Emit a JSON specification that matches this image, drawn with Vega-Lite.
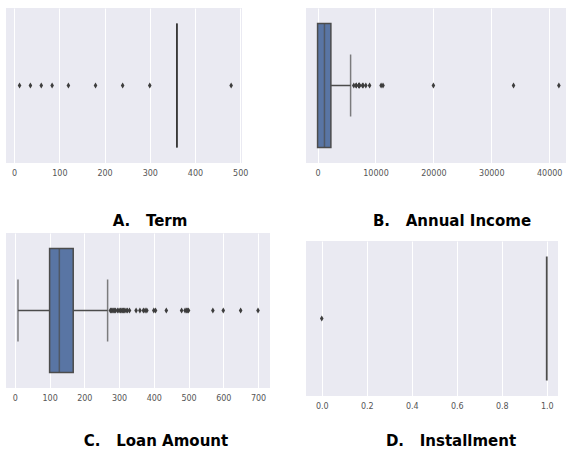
{
  "$schema": "https://vega.github.io/schema/vega-lite/v6.json",
  "padding": {"left": 6, "top": 8, "right": 0, "bottom": 0},
  "background": "#ffffff",
  "datasets": {
    "stats": [
      {"panel": "A", "lo": 360, "q1": 360, "median": 360, "q3": 360, "hi": 360},
      {"panel": "B", "lo": 0, "q1": 0, "median": 1188.5, "q3": 2297, "hi": 5701},
      {"panel": "C", "lo": 9, "q1": 100, "median": 128, "q3": 168, "hi": 267},
      {"panel": "D", "lo": 1, "q1": 1, "median": 1, "q3": 1, "hi": 1}
    ],
    "outliers": [
      {"panel": "A", "value": 12}, {"panel": "A", "value": 36}, {"panel": "A", "value": 60},
      {"panel": "A", "value": 84}, {"panel": "A", "value": 120}, {"panel": "A", "value": 180},
      {"panel": "A", "value": 240}, {"panel": "A", "value": 300}, {"panel": "A", "value": 480},
      {"panel": "B", "value": 6250}, {"panel": "B", "value": 6666}, {"panel": "B", "value": 6667},
      {"panel": "B", "value": 7101}, {"panel": "B", "value": 7166}, {"panel": "B", "value": 7210},
      {"panel": "B", "value": 7250}, {"panel": "B", "value": 7750}, {"panel": "B", "value": 7873},
      {"panel": "B", "value": 8333}, {"panel": "B", "value": 8980}, {"panel": "B", "value": 10968},
      {"panel": "B", "value": 11300}, {"panel": "B", "value": 20000}, {"panel": "B", "value": 33837},
      {"panel": "B", "value": 41667},
      {"panel": "C", "value": 275}, {"panel": "C", "value": 279}, {"panel": "C", "value": 280},
      {"panel": "C", "value": 285}, {"panel": "C", "value": 286}, {"panel": "C", "value": 290},
      {"panel": "C", "value": 296}, {"panel": "C", "value": 300}, {"panel": "C", "value": 304},
      {"panel": "C", "value": 308}, {"panel": "C", "value": 311}, {"panel": "C", "value": 312},
      {"panel": "C", "value": 315}, {"panel": "C", "value": 320}, {"panel": "C", "value": 324},
      {"panel": "C", "value": 330}, {"panel": "C", "value": 349}, {"panel": "C", "value": 360},
      {"panel": "C", "value": 370}, {"panel": "C", "value": 375}, {"panel": "C", "value": 380},
      {"panel": "C", "value": 400}, {"panel": "C", "value": 405}, {"panel": "C", "value": 436},
      {"panel": "C", "value": 480}, {"panel": "C", "value": 490}, {"panel": "C", "value": 495},
      {"panel": "C", "value": 496}, {"panel": "C", "value": 500}, {"panel": "C", "value": 570},
      {"panel": "C", "value": 600}, {"panel": "C", "value": 650}, {"panel": "C", "value": 700},
      {"panel": "D", "value": 0}
    ]
  },
  "hconcat": [
    {
      "vconcat": [
        {
          "width": 236, "height": 155,
          "title": {"text": "A.\u00a0\u00a0\u00a0Term", "orient": "bottom", "offset": 37, "dx": 26},
          "encoding": {"y": {"field": "panel", "type": "nominal", "axis": null, "scale": {"type": "band", "paddingInner": 0.2, "paddingOuter": 0.1}}},
          "layer": [
            {"data": {"name": "stats"}, "transform": [{"filter": "datum.panel === 'A'"}], "mark": {"type": "rule", "color": "#3d3d3d", "strokeWidth": 1.5},
             "encoding": {"x": {"field": "lo", "type": "quantitative", "title": null, "scale": {"domain": [-18, 504], "nice": false, "zero": false}, "axis": {"values": [0, 100, 200, 300, 400, 500], "format": "d"}}, "x2": {"field": "hi"}}},
            {"data": {"name": "stats"}, "transform": [{"filter": "datum.panel === 'A'"}], "mark": {"type": "bar", "fill": "#5975A4", "stroke": "#333333", "strokeWidth": 1.6},
             "encoding": {"x": {"field": "q1", "type": "quantitative", "title": null, "axis": {"values": [0, 100, 200, 300, 400, 500], "format": "d"}}, "x2": {"field": "q3"}}},
            {"data": {"name": "stats"}, "transform": [{"filter": "datum.panel === 'A'"}], "mark": {"type": "tick", "color": "#333333", "thickness": 1.6, "size": 124, "orient": "vertical"},
             "encoding": {"x": {"field": "median", "type": "quantitative", "title": null, "axis": {"values": [0, 100, 200, 300, 400, 500], "format": "d"}}}},
            {"data": {"name": "outliers"}, "transform": [{"filter": "datum.panel === 'A'"}], "mark": {"type": "point", "shape": "M0,-1L0.6,0L0,1L-0.6,0Z", "filled": true, "color": "#3d3d3d", "size": 36, "opacity": 1},
             "encoding": {"x": {"field": "value", "type": "quantitative", "title": null, "axis": {"values": [0, 100, 200, 300, 400, 500], "format": "d"}}}}
          ]
        },
        {
          "width": 264, "height": 155,
          "title": {"text": "C.\u00a0\u00a0\u00a0Loan Amount", "orient": "bottom", "offset": 32, "dx": 18},
          "encoding": {"y": {"field": "panel", "type": "nominal", "axis": null, "scale": {"type": "band", "paddingInner": 0.2, "paddingOuter": 0.1}}},
          "layer": [
            {"data": {"name": "stats"}, "transform": [{"filter": "datum.panel === 'C'"}], "mark": {"type": "rule", "color": "#4c4c4c", "strokeWidth": 1.5},
             "encoding": {"x": {"field": "lo", "type": "quantitative", "title": null, "scale": {"domain": [-25.5, 734.5], "nice": false, "zero": false}, "axis": {"values": [0, 100, 200, 300, 400, 500, 600, 700], "format": "d"}}, "x2": {"field": "hi"}}},
            {"data": {"name": "stats"}, "transform": [{"filter": "datum.panel === 'C'"}], "mark": {"type": "tick", "color": "#4c4c4c", "thickness": 1.5, "size": 62, "orient": "vertical"},
             "encoding": {"x": {"field": "lo", "type": "quantitative", "title": null, "axis": {"values": [0, 100, 200, 300, 400, 500, 600, 700], "format": "d"}}}},
            {"data": {"name": "stats"}, "transform": [{"filter": "datum.panel === 'C'"}], "mark": {"type": "tick", "color": "#4c4c4c", "thickness": 1.5, "size": 62, "orient": "vertical"},
             "encoding": {"x": {"field": "hi", "type": "quantitative", "title": null, "axis": {"values": [0, 100, 200, 300, 400, 500, 600, 700], "format": "d"}}}},
            {"data": {"name": "stats"}, "transform": [{"filter": "datum.panel === 'C'"}], "mark": {"type": "bar", "fill": "#5975A4", "stroke": "#4c4c4c", "strokeWidth": 1.5},
             "encoding": {"x": {"field": "q1", "type": "quantitative", "title": null, "axis": {"values": [0, 100, 200, 300, 400, 500, 600, 700], "format": "d"}}, "x2": {"field": "q3"}}},
            {"data": {"name": "stats"}, "transform": [{"filter": "datum.panel === 'C'"}], "mark": {"type": "tick", "color": "#4c4c4c", "thickness": 1.5, "size": 124, "orient": "vertical"},
             "encoding": {"x": {"field": "median", "type": "quantitative", "title": null, "axis": {"values": [0, 100, 200, 300, 400, 500, 600, 700], "format": "d"}}}},
            {"data": {"name": "outliers"}, "transform": [{"filter": "datum.panel === 'C'"}], "mark": {"type": "point", "shape": "M0,-1L0.6,0L0,1L-0.6,0Z", "filled": true, "color": "#3d3d3d", "size": 36, "opacity": 1},
             "encoding": {"x": {"field": "value", "type": "quantitative", "title": null, "axis": {"values": [0, 100, 200, 300, 400, 500, 600, 700], "format": "d"}}}}
          ]
        }
      ],
      "spacing": 70,
      "bounds": "flush"
    },
    {
      "vconcat": [
        {
          "width": 260, "height": 155,
          "title": {"text": "B.\u00a0\u00a0\u00a0Annual Income", "orient": "bottom", "offset": 37, "dx": 16},
          "encoding": {"y": {"field": "panel", "type": "nominal", "axis": null, "scale": {"type": "band", "paddingInner": 0.2, "paddingOuter": 0.1}}},
          "layer": [
            {"data": {"name": "stats"}, "transform": [{"filter": "datum.panel === 'B'"}], "mark": {"type": "rule", "color": "#4c4c4c", "strokeWidth": 1.5},
             "encoding": {"x": {"field": "lo", "type": "quantitative", "title": null, "scale": {"domain": [-2000, 42900], "nice": false, "zero": false}, "axis": {"values": [0, 10000, 20000, 30000, 40000], "format": "d"}}, "x2": {"field": "hi"}}},
            {"data": {"name": "stats"}, "transform": [{"filter": "datum.panel === 'B'"}], "mark": {"type": "tick", "color": "#4c4c4c", "thickness": 1.5, "size": 62, "orient": "vertical"},
             "encoding": {"x": {"field": "hi", "type": "quantitative", "title": null, "axis": {"values": [0, 10000, 20000, 30000, 40000], "format": "d"}}}},
            {"data": {"name": "stats"}, "transform": [{"filter": "datum.panel === 'B'"}], "mark": {"type": "bar", "fill": "#5975A4", "stroke": "#4c4c4c", "strokeWidth": 1.5},
             "encoding": {"x": {"field": "q1", "type": "quantitative", "title": null, "axis": {"values": [0, 10000, 20000, 30000, 40000], "format": "d"}}, "x2": {"field": "q3"}}},
            {"data": {"name": "stats"}, "transform": [{"filter": "datum.panel === 'B'"}], "mark": {"type": "tick", "color": "#4c4c4c", "thickness": 1.5, "size": 124, "orient": "vertical"},
             "encoding": {"x": {"field": "median", "type": "quantitative", "title": null, "axis": {"values": [0, 10000, 20000, 30000, 40000], "format": "d"}}}},
            {"data": {"name": "outliers"}, "transform": [{"filter": "datum.panel === 'B'"}], "mark": {"type": "point", "shape": "M0,-1L0.6,0L0,1L-0.6,0Z", "filled": true, "color": "#3d3d3d", "size": 36, "opacity": 1},
             "encoding": {"x": {"field": "value", "type": "quantitative", "title": null, "axis": {"values": [0, 10000, 20000, 30000, 40000], "format": "d"}}}}
          ]
        },
        {
          "width": 252, "height": 155,
          "title": {"text": "D.\u00a0\u00a0\u00a0Installment", "orient": "bottom", "offset": 24, "dx": 19},
          "encoding": {"y": {"field": "panel", "type": "nominal", "axis": null, "scale": {"type": "band", "paddingInner": 0.2, "paddingOuter": 0.1}}},
          "layer": [
            {"data": {"name": "stats"}, "transform": [{"filter": "datum.panel === 'D'"}], "mark": {"type": "bar", "fill": "#5975A4", "stroke": "#4c4c4c", "strokeWidth": 1.8},
             "encoding": {"x": {"field": "q1", "type": "quantitative", "title": null, "scale": {"domain": [-0.07, 1.05], "nice": false, "zero": false}, "axis": {"values": [0, 0.2, 0.4, 0.6, 0.8, 1.0], "format": ".1f"}}, "x2": {"field": "q3"}}},
            {"data": {"name": "outliers"}, "transform": [{"filter": "datum.panel === 'D'"}], "mark": {"type": "point", "shape": "M0,-1L0.6,0L0,1L-0.6,0Z", "filled": true, "color": "#3d3d3d", "size": 36, "opacity": 1},
             "encoding": {"x": {"field": "value", "type": "quantitative", "title": null, "axis": {"values": [0, 0.2, 0.4, 0.6, 0.8, 1.0], "format": ".1f"}}}}
          ]
        }
      ],
      "spacing": 78,
      "bounds": "flush"
    }
  ],
  "spacing": 36,
  "config": {
    "view": {"fill": "#EAEAF2", "stroke": null},
    "axisX": {"grid": true, "gridColor": "#ffffff", "gridWidth": 1, "domain": false, "ticks": false, "labelFont": "DejaVu Sans", "labelFontSize": 8, "labelColor": "#555555", "labelPadding": 6, "labelFlush": false, "labelOverlap": false},
    "title": {"font": "DejaVu Sans", "fontSize": 15, "fontWeight": "bold", "color": "#000000", "anchor": "middle"}
  }
}
